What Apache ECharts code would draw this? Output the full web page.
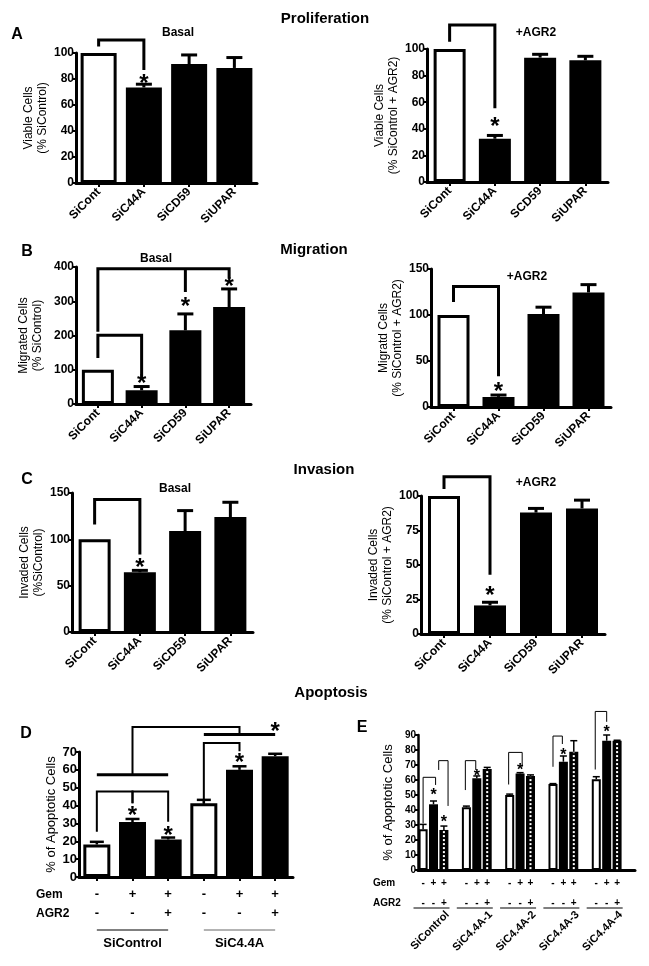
<!DOCTYPE html>
<html><head><meta charset="utf-8">
<script src="https://cdn.jsdelivr.net/npm/echarts@6/dist/echarts.min.js"></script>
<style>html,body{margin:0;padding:0;background:#fff}#c{width:649px;height:966px}</style>
</head><body><div id="c"></div><script>
// ---------- DATA ----------
const catsBasal = ['SiCont', 'SiC44A', 'SiCD59', 'SiUPAR'];
const catsProlifAgr2 = ['SiCont', 'SiC44A', 'SCD59', 'SiUPAR'];

const prolifBasal = [100, 73.5, 91.5, 88.5];
const prolifBasalErr = [0, 2.5, 7, 8];
const prolifAgr2 = [100, 32.5, 93.5, 91.5];
const prolifAgr2Err = [0, 2.5, 2.5, 3];
const migBasal = [100, 40, 215, 283];
const migBasalErr = [0, 11, 48, 53];
const migAgr2 = [100, 11, 101, 124.5];
const migAgr2Err = [0, 2, 7.5, 8.5];
const invBasal = [100, 64.5, 109, 124];
const invBasalErr = [0, 2, 22, 16];
const invAgr2 = [100, 20.7, 88, 91];
const invAgr2Err = [0, 2.3, 3, 6];

const apoDGemRow = ['-', '+', '+', '-', '+', '+'];
const apoDAgr2Row = ['-', '-', '+', '-', '-', '+'];
const apoD = [18.2, 30.8, 21, 41.3, 60, 67.6];
const apoDErr = [1.5, 1.7, 1.1, 1.9, 2, 1.4];
const apoDGroups = ['SiControl', 'SiC4.4A'];

const apoECats = ['SiControl', 'SiC4.4A-1', 'SiC4.4A-2', 'SiC4.4A-3', 'SiC4.4A-4'];
const apoECtrl = [27.1, 41.8, 50, 57.3, 60.5];
const apoECtrlErr = [3.3, 0.8, 0.6, 0.3, 1.7];
const apoEGem = [43.8, 61.1, 64.4, 72.2, 86.2];
const apoEGemErr = [2.2, 1.6, 0.5, 3.8, 3.8];
const apoEGemAgr2 = [26.7, 67.3, 62.7, 78.9, 86.2];
const apoEGemAgr2Err = [2.6, 1.1, 0.7, 7.3, 0.3];
const apoEGemRow = ['-', '+', '+'];
const apoEAgr2Row = ['-', '-', '+'];

// significance brackets (data coords: [category, value, slot])
const bracketsA1 = [[[0,105],[0,110],[1,110],[1,87]]];
const starsA1 = [[1,80]];
const bracketsA2 = [[[0,105.5],[0,118],[1,118],[1,55.5]]];
const starsA2 = [[1,45]];
const bracketsB1 = [[[0,134],[0,201],[1,201],[1,75]], [[0,211],[0,395],[3,395],[3,366]], [[2,395],[2,327]]];
const starsB1 = [[1,72],[2,298],[3,356]];
const bracketsB2 = [[[0,114],[0,131],[1,131],[1,33.5]]];
const starsB2 = [[1,22]];
const bracketsC1 = [[[0,116],[0,143],[1,143],[1,83.5]]];
const starsC1 = [[1,74]];
const bracketsC2 = [[[0,105],[0,114],[1,114],[1,43]]];
const starsC2 = [[1,31]];
const bracketsD = [[[0,25.3],[0,47.9],[0.95,47.9],[0.95,41.3]], [[1.15,41.3],[1.15,47.9],[2.03,47.9],[2.03,31]], [[3,40.3],[3,75],[3.95,75],[3.95,70.4]], [[1.07,57.2],[1.07,84],[4.1,84],[4.1,79.8]]];
const groupLinesD = [[[-0.48,57.2],[2.32,57.2]], [[2.69,79.8],[5.32,79.8]]];
const starsD = [[1,37],[2,25.7],[4,66.6],[4.6,84]];
const bracketsE = [
  [[0,31.1,-1],[0,61.8,-1],[0,61.8,0.2],[0,56.7,0.2]],
  [[0,66.7,0.5],[0,72.9,0.5],[0,72.9,1.4],[0,42.7,1.4]],
  [[1,53.3,-1.1],[1,72.9,-1.1],[1,72.9,-0.1],[1,66.7,-0.1]],
  [[2,57,-1.1],[2,78.4,-1.1],[2,78.4,0.2],[2,68.9,0.2]],
  [[3,68.8,-1],[3,89.3,-1],[3,89.3,-0.1],[3,84,-0.1]],
  [[4,67,-1.1],[4,105.7,-1.1],[4,105.7,0],[4,98.8,0]]
];
const starsE = [[0,52.2,0],[0,33.8,1],[1,64.4,0],[2,68.6,0],[3,78.9,0],[4,94,0]];

// ---------- STYLE / LAYOUT ----------
const FF = '"Liberation Sans", Arial, Helvetica, sans-serif';
const SLOT = 10.4; // px between bar centres in panel E

const grids = [], xAxes = [], yAxes = [], series = [];

function annot(i, items) {
  return {
    type: 'custom', xAxisIndex: i, yAxisIndex: i, clip: false, silent: true, z: 5,
    data: items.map(() => [0, 0]),
    renderItem: (params, api) => {
      const it = items[params.dataIndex];
      const pt = (p) => { const c = api.coord([p[0], p[1]]); return [c[0] + (p[2] || 0) * (it.slot || 0), c[1] + (p[3] || 0)]; };
      if (it.t === 'path') {
        return { type: 'polyline', shape: { points: it.pts.map(pt) },
          style: { stroke: it.color || '#000', lineWidth: it.w, fill: 'none', lineDash: it.dash || null } };
      }
      if (it.t === 'err') {
        const b = pt([it.x, it.v, it.s || 0]); const t = pt([it.x, it.v + it.e, it.s || 0]);
        return { type: 'group', children: [
          { type: 'line', shape: { x1: b[0], y1: b[1], x2: t[0], y2: t[1] }, style: { stroke: '#000', lineWidth: it.w } },
          { type: 'line', shape: { x1: t[0] - it.cap / 2, y1: t[1], x2: t[0] + it.cap / 2, y2: t[1] }, style: { stroke: '#000', lineWidth: it.w } }
        ] };
      }
      if (it.t === 'text') {
        const c = pt(it.p);
        return { type: 'text', x: c[0], y: c[1], rotation: it.rot || 0,
          style: { text: it.text, font: it.font, fill: '#000', align: it.align || 'center', verticalAlign: it.va || 'middle' } };
      }
    }
  };
}

function stdPanel(i, cfg) {
  grids.push(Object.assign({ containLabel: false }, cfg.grid));
  xAxes.push({
    gridIndex: i, type: 'category', data: cfg.cats,
    axisLine: { lineStyle: { color: '#000', width: 3 } },
    axisTick: { show: true, alignWithLabel: true, length: 4, lineStyle: { width: 2, color: '#000' } },
    axisLabel: cfg.xLabel || { rotate: 45, interval: 0, margin: 7, color: '#000', fontWeight: 'bold', fontSize: 12, fontFamily: FF }
  });
  yAxes.push({
    gridIndex: i, type: 'value', min: 0, max: cfg.max, interval: cfg.interval,
    axisLine: { show: true, onZero: false, lineStyle: { color: '#000', width: 3 } },
    axisTick: { show: true, length: 3, lineStyle: { width: 2, color: '#000' } },
    splitLine: { show: false },
    axisLabel: { margin: 2, color: '#000', fontWeight: 'bold', fontSize: cfg.ls || 12, fontFamily: FF },
    name: cfg.name, nameLocation: 'middle', nameGap: cfg.gap, nameRotate: 90,
    nameTextStyle: { color: '#000', fontSize: cfg.ns || 12, lineHeight: 14, fontFamily: FF }
  });
  const white = cfg.white || [0];
  series.push({
    type: 'bar', xAxisIndex: i, yAxisIndex: i, barWidth: cfg.bw, silent: true,
    data: cfg.vals.map((v, k) => ({ value: v, itemStyle: white.includes(k)
      ? { color: '#fff', borderColor: '#000', borderWidth: 3 } : { color: '#000' } }))
  });
  const items = [];
  cfg.vals.forEach((v, k) => { if (cfg.errs[k] > 0) items.push({ t: 'err', x: k, v: v, e: cfg.errs[k], cap: cfg.cap || 16, w: cfg.ew || 3 }); });
  (cfg.brackets || []).forEach(b => items.push({ t: 'path', pts: b, w: cfg.bwid || 3 }));
  (cfg.lines || []).forEach(b => items.push({ t: 'path', pts: b, w: 3 }));
  const sf = cfg.sf || 24;
  (cfg.stars || []).forEach(s => items.push({ t: 'text', p: [s[0], s[1], 0, sf * 0.22], text: '*', font: 'bold ' + sf + 'px ' + FF }));
  (cfg.extra || []).forEach(e => items.push(e));
  series.push(annot(i, items));
}

stdPanel(0, { grid: { left: 76, top: 53, width: 181, height: 130 }, cats: catsBasal, vals: prolifBasal, errs: prolifBasalErr,
  max: 100, interval: 20, bw: 36, name: 'Viable Cells\n(% SiControl)', gap: 24, brackets: bracketsA1, stars: starsA1 });
stdPanel(1, { grid: { left: 427, top: 49, width: 181, height: 133 }, cats: catsProlifAgr2, vals: prolifAgr2, errs: prolifAgr2Err,
  max: 100, interval: 20, bw: 32, name: 'Viable Cells\n(% SiControl + AGR2)', gap: 20, brackets: bracketsA2, stars: starsA2 });
stdPanel(2, { grid: { left: 76, top: 267, width: 175, height: 137 }, cats: catsBasal, vals: migBasal, errs: migBasalErr,
  max: 400, interval: 100, bw: 32, name: 'Migrated Cells\n(% SiControl)', gap: 31, brackets: bracketsB1, stars: starsB1 });
stdPanel(3, { grid: { left: 431, top: 269, width: 180, height: 138 }, cats: catsBasal, vals: migAgr2, errs: migAgr2Err,
  max: 150, interval: 50, bw: 32, name: 'Migratd Cells\n(% SiControl + AGR2)', gap: 21, brackets: bracketsB2, stars: starsB2 });
stdPanel(4, { grid: { left: 72, top: 493, width: 181, height: 139 }, cats: catsBasal, vals: invBasal, errs: invBasalErr,
  max: 150, interval: 50, bw: 32, name: 'Invaded Cells\n(%SiControl)', gap: 25, brackets: bracketsC1, stars: starsC1 });
stdPanel(5, { grid: { left: 421, top: 496, width: 184, height: 138 }, cats: catsBasal, vals: invAgr2, errs: invAgr2Err,
  max: 100, interval: 25, bw: 32, name: 'Invaded Cells\n(% SiControl + AGR2)', gap: 21, brackets: bracketsC2, stars: starsC2 });

// Panel D
const dExtra = [
  { t: 'path', pts: [[-0.14, 0, 0, 53], [2.13, 0, 0, 53]], w: 1 },
  { t: 'path', pts: [[2.8, 0, 0, 53], [5.05, 0, 0, 53]], w: 1, color: '#666' },
  { t: 'text', p: [0.84, 0, 0, 66], text: apoDGroups[0], font: 'bold 13px ' + FF },
  { t: 'text', p: [3.9, 0, 0, 66], text: apoDGroups[1], font: 'bold 13px ' + FF }
];
stdPanel(6, { grid: { left: 79, top: 752, width: 214, height: 125 }, cats: apoDGemRow.map((g, k) => 'c' + k), vals: apoD, errs: apoDErr,
  white: [0, 3], max: 70, interval: 10, bw: 27, name: '% of Apoptotic Cells', ns: 13, gap: 21, ls: 13, cap: 14, ew: 2.5,
  brackets: bracketsD, bwid: 2, lines: groupLinesD, stars: starsD, extra: dExtra,
  xLabel: { interval: 0, margin: 8, color: '#000', fontWeight: 'bold', fontSize: 13, lineHeight: 19, fontFamily: FF,
    formatter: (v, k) => apoDGemRow[k] + '\n' + apoDAgr2Row[k] } });

// Panel E
(function () {
  const i = 7;
  grids.push({ left: 418, top: 735, width: 217, height: 135 });
  xAxes.push({ gridIndex: i, type: 'value', min: -0.358, max: 4.654, splitLine: { show: false },
    axisLine: { show: true, onZero: false, lineStyle: { color: '#000', width: 3 } },
    axisTick: { show: false }, axisLabel: { show: false } });
  yAxes.push({ gridIndex: i, type: 'value', min: 0, max: 90, interval: 10,
    axisLine: { show: true, onZero: false, lineStyle: { color: '#000', width: 2.5 } },
    axisTick: { show: true, length: 3, lineStyle: { width: 2, color: '#000' } },
    splitLine: { show: false },
    axisLabel: { margin: 2, color: '#000', fontWeight: 'bold', fontSize: 10, fontFamily: FF },
    name: '% of Apoptotic Cells', nameLocation: 'middle', nameGap: 23,
    nameTextStyle: { color: '#000', fontSize: 13, fontFamily: FF } });
  const bw = 9, gap = ((SLOT - bw) / bw * 100).toFixed(1) + '%';
  series.push({ type: 'bar', xAxisIndex: i, yAxisIndex: i, barWidth: bw, barGap: gap, silent: true,
    data: apoECtrl.map((v, g) => [g, v]), itemStyle: { color: '#fff', borderColor: '#000', borderWidth: 2 } });
  series.push({ type: 'bar', xAxisIndex: i, yAxisIndex: i, barWidth: bw, barGap: gap, silent: true,
    data: apoEGem.map((v, g) => [g, v]), itemStyle: { color: '#000' } });
  series.push({ type: 'bar', xAxisIndex: i, yAxisIndex: i, barWidth: bw, barGap: gap, silent: true,
    data: apoEGemAgr2.map((v, g) => [g, v]), itemStyle: { color: '#000' } });
  const items = [];
  const sets = [[apoECtrl, apoECtrlErr, -1], [apoEGem, apoEGemErr, 0], [apoEGemAgr2, apoEGemAgr2Err, 1]];
  apoEGemAgr2.forEach((v, g) => items.push({ t: 'path', slot: SLOT, pts: [[g, 0.6, 1], [g, v - 0.6, 1]], w: 2, color: '#fff', dash: [2, 2] }));
  sets.forEach(([vals, errs, s]) => vals.forEach((v, g) => {
    if (errs[g] > 0) items.push({ t: 'err', slot: SLOT, x: g, v: v, e: errs[g], s: s, cap: 7, w: 1.5 });
  }));
  bracketsE.forEach(b => items.push({ t: 'path', slot: SLOT, pts: b, w: 1 }));
  starsE.forEach(s => items.push({ t: 'text', slot: SLOT, p: [s[0], s[1], s[2], 16 * 0.22], text: '*', font: 'bold 16px ' + FF }));
  apoECats.forEach((name, g) => {
    [-1, 0, 1].forEach((s, k) => {
      items.push({ t: 'text', slot: SLOT, p: [g, 0, s, 13], text: apoEGemRow[k], font: 'bold 10px ' + FF });
      items.push({ t: 'text', slot: SLOT, p: [g, 0, s, 33], text: apoEAgr2Row[k], font: 'bold 10px ' + FF });
    });
    items.push({ t: 'path', slot: 1, pts: [[g, 0, -20, 38], [g, 0, 16, 38]], w: 1 });
    items.push({ t: 'text', slot: 1, p: [g, 0, 14, 43], text: name, font: 'bold 11px ' + FF, align: 'right', va: 'middle', rot: Math.PI / 4 });
  });
  series.push(annot(i, items));
})();

// ---------- TEXT ----------
function txt(x, y, text, size, align) {
  return { type: 'text', x: x, y: y, silent: true,
    style: { text: text, font: 'bold ' + size + 'px ' + FF, fill: '#000', align: align || 'center', verticalAlign: 'middle' } };
}
const graphic = [
  txt(325, 19, 'Proliferation', 15), txt(314, 250, 'Migration', 15), txt(324, 470, 'Invasion', 15), txt(331, 693, 'Apoptosis', 15),
  txt(17, 35, 'A', 16), txt(27, 252, 'B', 16), txt(27, 480, 'C', 16), txt(26, 734, 'D', 16), txt(362, 728, 'E', 16),
  txt(178, 33, 'Basal', 12), txt(536, 33, '+AGR2', 12), txt(156, 259, 'Basal', 12), txt(527, 277, '+AGR2', 12),
  txt(175, 489, 'Basal', 12), txt(536, 483, '+AGR2', 12),
  txt(36, 895, 'Gem', 12, 'left'), txt(36, 914, 'AGR2', 12, 'left'),
  txt(373, 883, 'Gem', 10, 'left'), txt(373, 903, 'AGR2', 10, 'left')
];

const chart = echarts.init(document.getElementById('c'), null, { renderer: 'canvas' });
chart.setOption({
  animation: false, backgroundColor: '#fff',
  textStyle: { fontFamily: FF },
  grid: grids, xAxis: xAxes, yAxis: yAxes, series: series, graphic: graphic
});
</script></body></html>
